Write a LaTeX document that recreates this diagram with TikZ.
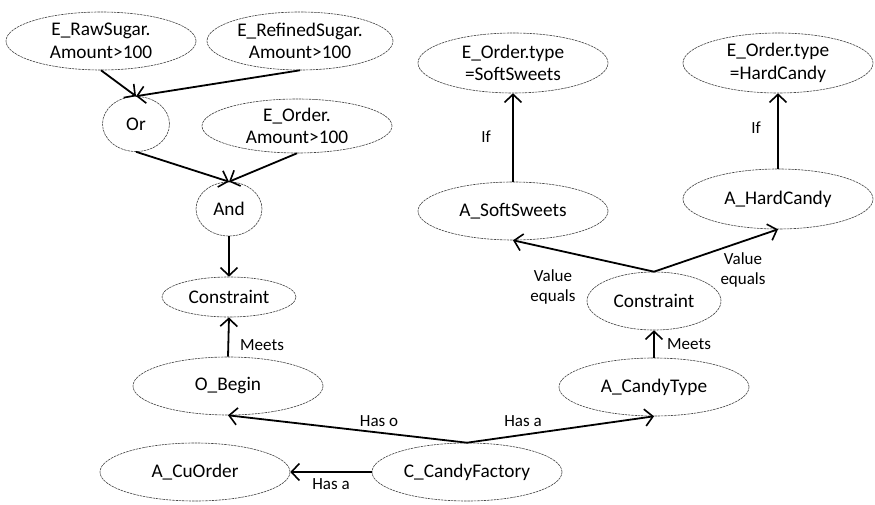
\documentclass[tikz,border=0pt]{standalone}
\usepackage{fontspec}
\setmainfont{Carlito}
\usetikzlibrary{shapes.geometric,arrows.meta}
\begin{document}
\begin{tikzpicture}[x=1pt,y=-1pt,
  ent/.style={ellipse,draw=black!75,line width=0.6pt,dash pattern=on 2.5pt off 0.8pt,
    inner sep=0pt,align=center,font=\fontsize{19.3}{22.5}\selectfont},
  wide/.style={ent,minimum width=190pt,minimum height=58pt},
  mid/.style={ent,minimum width=134pt,minimum height=40pt},
  gate/.style={ent,minimum width=66pt,minimum height=55pt},
  rel/.style={line width=1.8pt,-{Straight Barb[length=8pt,width=17pt,line width=1.6pt]}},
  lbl/.style={font=\fontsize{17}{20}\selectfont,inner sep=0pt,align=center}]
\useasboundingbox (0,0) rectangle (875,505);

% logical part of the order constraint
\node[wide] (raw) at (101,41) {E\_RawSugar.\\Amount>100};
\node[wide,minimum width=186pt] (ref) at (300,41) {E\_RefinedSugar.\\Amount>100};
\node[gate,minimum width=67pt] (or) at (136,124) {Or};
\node[wide,minimum height=54pt] (ord) at (297,126) {E\_Order.\\Amount>100};
\node[gate,minimum height=54pt] (and) at (229,209) {And};
\node[mid] (consL) at (229,297) {Constraint};
\node[wide] (begin) at (228,386) {O\_Begin};
\node[wide] (cuorder) at (195,472) {A\_CuOrder};
\node[wide] (factory) at (467,472) {C\_CandyFactory};

% candy type branch
\node[wide] (ctype) at (654,387) {A\_CandyType};
\node[mid,minimum height=58pt] (consR) at (654,301) {Constraint};
\node[wide] (soft) at (513,211) {A\_SoftSweets};
\node[wide,minimum height=60pt] (hard) at (778,199) {A\_HardCandy};
\node[wide,minimum height=60pt] (tsoft) at (513,63) {E\_Order.type\\=SoftSweets};
\node[wide,minimum height=60pt] (thard) at (778,63) {E\_Order.type\\=HardCandy};

% connectors
\draw[rel] (raw.south) -- (or.north);
\draw[rel] (ref.south) -- (or.north);
\draw[rel] (or.south) -- (and.north);
\draw[rel] (ord.south) -- (and.north);
\draw[rel] (and.south) -- (consL.north);
\draw[rel] (begin.north) -- (consL.south);
\draw[rel] (factory.north) -- (begin.south);
\draw[rel] (factory.north) -- (ctype.south);
\draw[rel] (factory.west) -- (cuorder.east);
\draw[rel] (ctype.north) -- (consR.south);
\draw[rel] (consR.north) -- (soft.south);
\draw[rel] (consR.north) -- (hard.south);
\draw[rel] (soft.north) -- (tsoft.south);
\draw[rel] (hard.north) -- (thard.south);

% connector labels
\node[lbl,anchor=west] (mL) at (240,345) {Meets};
\node[lbl,anchor=west] (mR) at (667,344) {Meets};
\node[lbl] (hasO) at (379,421) {Has o};
\node[lbl] (hasA1) at (523,421) {Has a};
\node[lbl] (hasA2) at (331,484) {Has a};
\node[lbl] (veL) at (553,287) {Value\\equals};
\node[lbl] (veR) at (743,270) {Value\\equals};
\node[lbl] (ifL) at (486,137) {If};
\node[lbl] (ifR) at (756,128) {If};
\end{tikzpicture}
\end{document}
